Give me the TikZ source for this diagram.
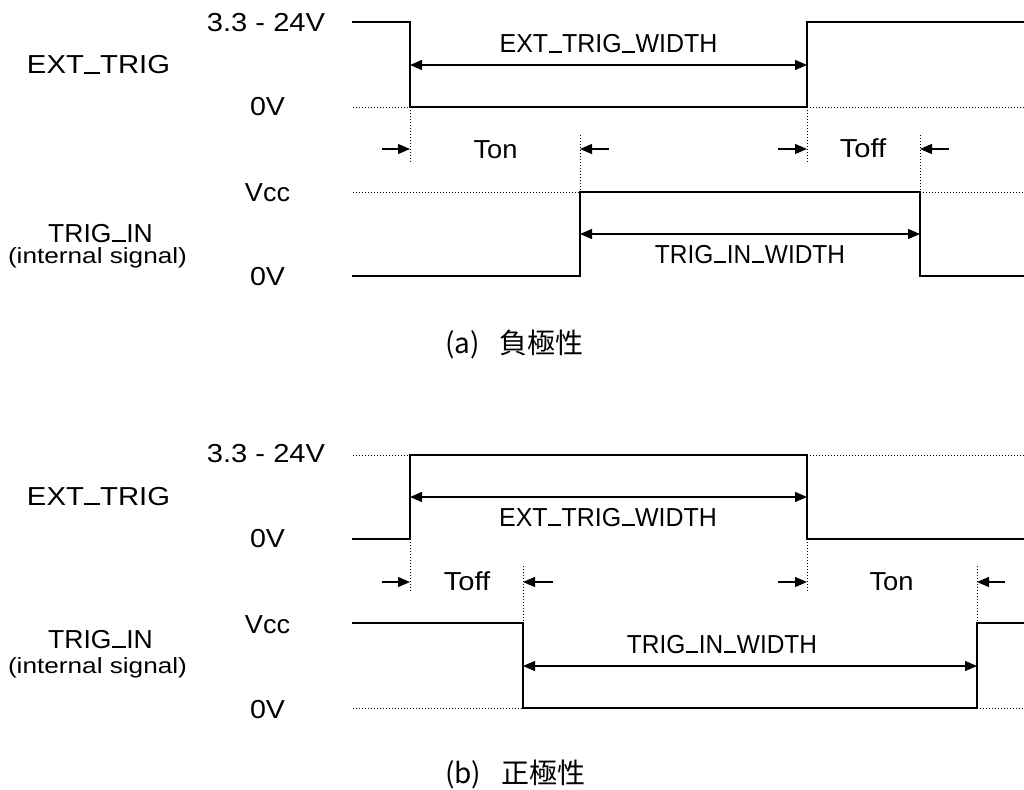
\documentclass[tikz,border=0pt]{standalone}
\usepackage{fontspec}
\setmainfont{Liberation Sans}
\newfontfamily\jpfont{Noto Sans CJK JP}
\usetikzlibrary{arrows.meta}
\tikzset{
  sig/.style={line width=2.2pt, line join=miter, line cap=rect},
  dots/.style={line width=0.9pt, dash pattern=on 1.3pt off 1.7pt},
  warr/.style={line width=1.2pt, {Triangle[length=12pt,width=10pt]}-{Triangle[length=12pt,width=10pt]}},
  tarr/.style={line width=1.2pt, -{Triangle[length=12pt,width=10pt]}},
  lbl/.style={inner sep=0pt, anchor=base, font=\fontsize{26pt}{28pt}\selectfont},
  sml/.style={inner sep=0pt, anchor=base, font=\fontsize{22pt}{24pt}\selectfont},
  captxt/.style={inner sep=0pt, anchor=base west, font=\jpfont\fontsize{28pt}{30pt}\selectfont},
}
\newcommand{\sx}[2]{\scalebox{#1}[1]{#2}}
\newcommand{\us}{\kern0.02em\rule[0pt]{0.516em}{1.6pt}\kern0.02em}
\begin{document}
\begin{tikzpicture}[x=1pt,y=-1pt]
\useasboundingbox (0,0) rectangle (1024,789);

% ================= (a) =================
% left labels
\node[lbl] (aV1) at (266,32) {\sx{1.12}{3.3 - 24V}};
\node[lbl] (aE)  at (98.5,74) {\sx{1.125}{EXT\us TRIG}};
\node[lbl] (aZ1) at (267.5,115) {\sx{1.1}{0V}};
\node[lbl] (aVc) at (267.5,201) {\sx{1.04}{Vcc}};
\node[lbl] (aT)  at (100.5,242) {\sx{1.02}{TRIG\us IN}};
\node[sml] (aTi) at (97.5,263) {\sx{1.19}{(internal signal)}};
\node[lbl] (aZ2) at (267.5,285) {\sx{1.1}{0V}};

% EXT_TRIG signal
\coordinate (ae1) at (353,22);
\coordinate (ae2) at (410,22);
\coordinate (ae3) at (410,107);
\coordinate (ae4) at (807,107);
\coordinate (ae5) at (807,22);
\coordinate (ae6) at (1024,22);
\coordinate (ae0) at (353,107);
\coordinate (ae7) at (1024,107);
\draw[sig] (ae1) -- (ae2) -- (ae3) -- (ae4) -- (ae5) -- (ae6);
\draw[dots] (ae0) -- (ae3);
\draw[dots] (ae4) -- (ae7);

% width arrow
\coordinate (aw1) at (410,65);
\coordinate (aw2) at (807,65);
\draw[warr] (aw1) -- (aw2);
\node[lbl] (awl) at (608.5,53) {\sx{0.96}{EXT\us TRIG\us WIDTH}};

% TRIG_IN signal
\coordinate (at0) at (353,276);
\coordinate (at1) at (580,276);
\coordinate (at2) at (580,192);
\coordinate (at3) at (920,192);
\coordinate (at4) at (920,276);
\coordinate (at5) at (1024,276);
\coordinate (atv0) at (353,192);
\coordinate (atv5) at (1024,192);
\draw[sig] (at0) -- (at1) -- (at2) -- (at3) -- (at4) -- (at5);
\draw[dots] (atv0) -- (at2);
\draw[dots] (at3) -- (atv5);

\coordinate (aiw1) at (580,234);
\coordinate (aiw2) at (920,234);
\draw[warr] (aiw1) -- (aiw2);
\node[lbl] (aiwl) at (750,263) {\sx{0.94}{TRIG\us IN\us WIDTH}};

% timing marks
\coordinate (ad1b) at (410,163);
\coordinate (ad2t) at (580,135);
\coordinate (ad3b) at (807,163);
\coordinate (ad4t) at (920,135);
\draw[dots] (ae3) -- (ad1b);
\draw[dots] (ad2t) -- (at2);
\draw[dots] (ae4) -- (ad3b);
\draw[dots] (ad4t) -- (at3);

\coordinate (am1s) at (382,149);
\coordinate (am1e) at (410,149);
\coordinate (am2s) at (609,149);
\coordinate (am2e) at (580,149);
\coordinate (am3s) at (778,149);
\coordinate (am3e) at (807,149);
\coordinate (am4s) at (949,149);
\coordinate (am4e) at (920,149);
\draw[tarr] (am1s) -- (am1e);
\draw[tarr] (am2s) -- (am2e);
\draw[tarr] (am3s) -- (am3e);
\draw[tarr] (am4s) -- (am4e);
\node[lbl] (aton) at (495.5,158) {\sx{1.05}{Ton}};
\node[lbl] (atoff) at (863,157) {\sx{1.12}{Toff}};

\node[captxt] (acap) at (445,353) {(a)\hspace{20pt}負極性};

% ================= (b) =================
\node[lbl] (bV1) at (266,462) {\sx{1.12}{3.3 - 24V}};
\node[lbl] (bE)  at (98.5,505) {\sx{1.125}{EXT\us TRIG}};
\node[lbl] (bZ1) at (267.5,547) {\sx{1.1}{0V}};
\node[lbl] (bVc) at (267.5,633) {\sx{1.04}{Vcc}};
\node[lbl] (bT)  at (100.5,648) {\sx{1.02}{TRIG\us IN}};
\node[sml] (bTi) at (97.5,673) {\sx{1.19}{(internal signal)}};
\node[lbl] (bZ2) at (267.5,718) {\sx{1.1}{0V}};

% EXT_TRIG signal
\coordinate (be1) at (353,539);
\coordinate (be2) at (410,539);
\coordinate (be3) at (410,455);
\coordinate (be4) at (807,455);
\coordinate (be5) at (807,539);
\coordinate (be6) at (1024,539);
\coordinate (be0) at (353,455);
\coordinate (be7) at (1024,455);
\draw[sig] (be1) -- (be2) -- (be3) -- (be4) -- (be5) -- (be6);
\draw[dots] (be0) -- (be3);
\draw[dots] (be4) -- (be7);

\coordinate (bw1) at (410,497);
\coordinate (bw2) at (807,497);
\draw[warr] (bw1) -- (bw2);
\node[lbl] (bwl) at (608,526) {\sx{0.96}{EXT\us TRIG\us WIDTH}};

% TRIG_IN signal
\coordinate (bt0) at (353,623);
\coordinate (bt1) at (523,623);
\coordinate (bt2) at (523,708);
\coordinate (bt3) at (977,708);
\coordinate (bt4) at (977,623);
\coordinate (bt5) at (1024,623);
\coordinate (btz0) at (353,708);
\coordinate (btz5) at (1024,708);
\draw[sig] (bt0) -- (bt1) -- (bt2) -- (bt3) -- (bt4) -- (bt5);
\draw[dots] (btz0) -- (bt2);
\draw[dots] (bt3) -- (btz5);

\coordinate (biw1) at (523,666);
\coordinate (biw2) at (977,666);
\draw[warr] (biw1) -- (biw2);
\node[lbl] (biwl) at (722,653) {\sx{0.94}{TRIG\us IN\us WIDTH}};

% timing marks
\coordinate (bd1b) at (410,592);
\coordinate (bd2t) at (523,566);
\coordinate (bd3b) at (807,592);
\coordinate (bd4t) at (977,566);
\draw[dots] (be2) -- (bd1b);
\draw[dots] (bd2t) -- (bt1);
\draw[dots] (be5) -- (bd3b);
\draw[dots] (bd4t) -- (bt4);

\coordinate (bm1s) at (382,582);
\coordinate (bm1e) at (410,582);
\coordinate (bm2s) at (553,582);
\coordinate (bm2e) at (523,582);
\coordinate (bm3s) at (778,582);
\coordinate (bm3e) at (807,582);
\coordinate (bm4s) at (1005,582);
\coordinate (bm4e) at (977,582);
\draw[tarr] (bm1s) -- (bm1e);
\draw[tarr] (bm2s) -- (bm2e);
\draw[tarr] (bm3s) -- (bm3e);
\draw[tarr] (bm4s) -- (bm4e);
\node[lbl] (btoff) at (467,590) {\sx{1.12}{Toff}};
\node[lbl] (bton) at (891.5,590) {\sx{1.05}{Ton}};

\node[captxt] (bcap) at (445,783) {(b)\hspace{20pt}正極性};
\end{tikzpicture}
\end{document}
